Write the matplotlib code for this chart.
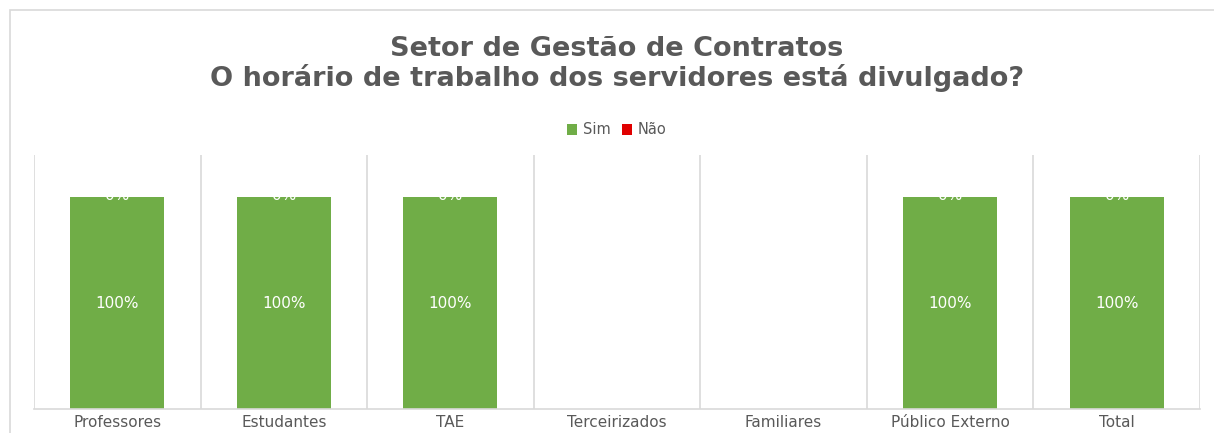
import numpy as np
import matplotlib.pyplot as plt
from matplotlib.patches import Rectangle

# Respostas por segmento (fração do total)
categorias = ["Professores", "Estudantes", "TAE", "Terceirizados",
              "Familiares", "Público Externo", "Total"]
sim = [1.0, 1.0, 1.0, np.nan, np.nan, 1.0, 1.0]
nao = [0.0, 0.0, 0.0, np.nan, np.nan, 0.0, 0.0]

verde = "#70AD47"
vermelho = "#E00000"
cinza_texto = "#595959"
cinza_linha = "#D9D9D9"

fig = plt.figure(figsize=(12.14, 4.33), dpi=100)
ax = fig.add_axes([34 / 1214, 1 - 409 / 433, (1200 - 34) / 1214, (409 - 155) / 433])

# moldura da área do gráfico
fig.patches.append(Rectangle((10 / 1214, -0.1), 1.1, 1 - 10 / 433 + 0.1,
                             transform=fig.transFigure, fill=False,
                             edgecolor=cinza_linha, linewidth=1.2))

x = np.arange(len(categorias))
largura = 0.565
sim_arr = np.array(sim)
nao_arr = np.array(nao)

b1 = ax.bar(x, sim_arr, largura, color=verde, label="Sim", zorder=2)
b2 = ax.bar(x, nao_arr, largura, bottom=sim_arr, color=vermelho, label="Não", zorder=2)

for i in range(len(categorias)):
    if np.isnan(sim_arr[i]):
        continue
    ax.text(x[i], sim_arr[i] / 2, f"{sim_arr[i]:.0%}", ha="center", va="center",
            color="white", fontsize=11, zorder=3)
    ax.text(x[i], sim_arr[i] + nao_arr[i] / 2 + 0.01, f"{nao_arr[i]:.0%}",
            ha="center", va="center", color="white", fontsize=11, zorder=3)

ax.set_xlim(-0.5, len(categorias) - 0.5)
ax.set_ylim(0, 1.2)

# linhas verticais separando as categorias
for xv in np.arange(-0.5, len(categorias), 1.0):
    ax.axvline(xv, color=cinza_linha, linewidth=1.2, zorder=1)

for lado in ["top", "left", "right"]:
    ax.spines[lado].set_visible(False)
ax.spines["bottom"].set_color(cinza_linha)
ax.spines["bottom"].set_linewidth(1.2)
ax.set_yticks([])
ax.set_xticks(x)
ax.set_xticklabels(categorias, color=cinza_texto, fontsize=11)
ax.tick_params(axis="x", length=0, pad=4)

fig.text(0.508, 1 - 64 / 433, "Setor de Gestão de Contratos\nO horário de trabalho dos servidores está divulgado?",
         ha="center", va="center", fontsize=19.5, fontweight="bold",
         color=cinza_texto, linespacing=1.1)

fig.legend(handles=[b1, b2], labels=["Sim", "Não"], loc="center",
           bbox_to_anchor=(0.508, 1 - 130 / 433), ncol=2, frameon=False,
           fontsize=10.5, labelcolor=cinza_texto, handlelength=0.7,
           handleheight=0.7, handletextpad=0.4, columnspacing=0.8)

plt.savefig("out.png", dpi=100)
